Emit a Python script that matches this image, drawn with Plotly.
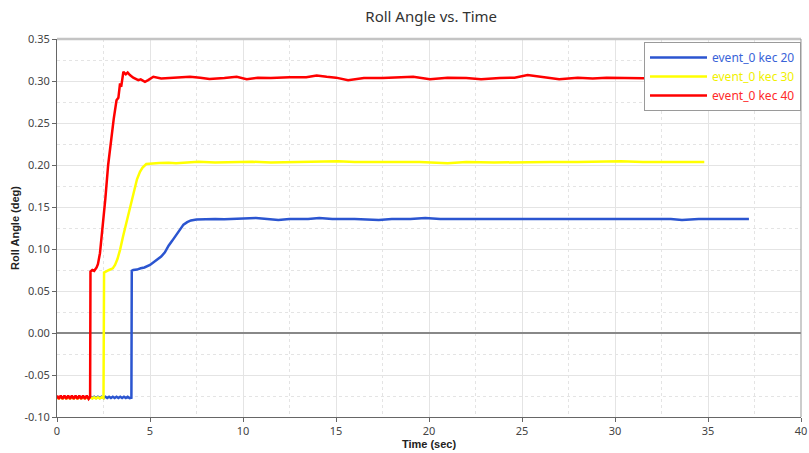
import plotly.graph_objects as go

# ---------------- data ----------------
blue_t = [0.0, 0.1, 0.2, 0.3, 0.4, 0.5, 0.6, 0.7, 0.8, 0.9, 1.0, 1.1, 1.2, 1.3, 1.4, 1.5, 1.6, 1.7, 1.8, 1.9,
          2.0, 2.1, 2.2, 2.3, 2.4, 2.5, 2.6, 2.7, 2.8, 2.9, 3.0, 3.1, 3.2, 3.3, 3.4, 3.5, 3.6, 3.7, 3.8, 3.9, 4.0,
          4.02, 4.1, 4.3, 4.5, 4.7, 5.0, 5.2, 5.4, 5.6, 5.8, 6.0, 6.2, 6.4, 6.6, 6.8, 7.0, 7.2, 7.5, 8.0, 8.5,
          9.0, 10.0, 10.7, 11.3, 11.9, 12.5, 13.5, 14.1, 14.8, 16.0, 17.3, 18.0, 19.0, 19.8, 20.6, 22.0, 24.0,
          26.0, 28.0, 30.0, 32.0, 33.0, 33.6, 34.5, 35.5, 36.5, 37.2]
blue_y = [-0.0760, -0.0775, -0.0760, -0.0775, -0.0760, -0.0775, -0.0760, -0.0775, -0.0760, -0.0775,
          -0.0760, -0.0775, -0.0760, -0.0775, -0.0760, -0.0775, -0.0760, -0.0775, -0.0760, -0.0775,
          -0.0760, -0.0775, -0.0760, -0.0775, -0.0760, -0.0775, -0.0760, -0.0775, -0.0760, -0.0775,
          -0.0760, -0.0775, -0.0760, -0.0775, -0.0760, -0.0775, -0.0760, -0.0775, -0.0760, -0.0775, -0.0770,
          0.0740, 0.0750, 0.0755, 0.0770, 0.0780, 0.0810, 0.0840, 0.0870, 0.0910, 0.0960, 0.1040, 0.1100,
          0.1160, 0.1230, 0.1290, 0.1320, 0.1340, 0.1350, 0.1355, 0.1358,
          0.1355, 0.1362, 0.1370, 0.1358, 0.1345, 0.1357, 0.1358, 0.1370, 0.1357, 0.1357, 0.1345, 0.1357,
          0.1357, 0.1370, 0.1357, 0.1357, 0.1357, 0.1357, 0.1357, 0.1357, 0.1357, 0.1357, 0.1345, 0.1357,
          0.1357, 0.1357, 0.1357]

yellow_t = [0.0, 0.1, 0.2, 0.3, 0.4, 0.5, 0.6, 0.7, 0.8, 0.9, 1.0, 1.1, 1.2, 1.3, 1.4, 1.5, 1.6, 1.7, 1.8, 1.9,
            2.0, 2.1, 2.2, 2.3, 2.4, 2.5,
            2.53, 2.6, 2.8, 3.0, 3.12, 3.25, 3.39, 3.55, 3.75, 3.9, 4.1, 4.3, 4.46, 4.6, 4.8, 5.0, 5.5, 6.0,
            6.4, 7.0, 7.6, 8.5, 9.5, 10.5, 11.5, 12.5, 13.5, 15.1, 16.0, 18.0, 19.5, 21.0, 22.0, 23.5, 25.0,
            26.5, 28.0, 30.3, 31.5, 33.0, 34.8]
yellow_y = [-0.0765, -0.0780, -0.0765, -0.0780, -0.0765, -0.0780, -0.0765, -0.0780, -0.0765, -0.0780,
            -0.0765, -0.0780, -0.0765, -0.0780, -0.0765, -0.0780, -0.0765, -0.0780, -0.0765, -0.0780,
            -0.0765, -0.0780, -0.0765, -0.0780, -0.0765, -0.0775,
            0.0720, 0.0730, 0.0750, 0.0770, 0.0810, 0.0880, 0.0990, 0.1150, 0.1340, 0.1480, 0.1660, 0.1830,
            0.1920, 0.1970, 0.2012, 0.2018, 0.2025, 0.2028, 0.2022, 0.2030, 0.2040, 0.2030, 0.2032, 0.2038,
            0.2030, 0.2035, 0.2038, 0.2045, 0.2035, 0.2035, 0.2035, 0.2022, 0.2035, 0.2030, 0.2035, 0.2035,
            0.2035, 0.2045, 0.2035, 0.2035, 0.2035]

red_t = [0.0, 0.1, 0.2, 0.3, 0.4, 0.5, 0.6, 0.7, 0.8, 0.9, 1.0, 1.1, 1.2, 1.3, 1.4, 1.5, 1.6, 1.7, 1.78,
         1.80, 1.9, 2.0, 2.13, 2.2, 2.31, 2.45, 2.6, 2.75, 2.94, 3.05, 3.2, 3.3, 3.39, 3.45, 3.57, 3.7, 3.8,
         3.92, 4.1, 4.37, 4.5, 4.73, 4.9, 5.18, 5.6, 6.2, 7.15, 7.7, 8.2, 9.0, 9.66, 10.2, 10.8, 11.5, 12.5,
         13.4, 13.96, 14.5, 15.0, 15.65, 16.5, 17.5, 18.5, 19.15, 20.05, 21.0, 22.0, 22.8, 23.8, 24.6, 25.3,
         26.0, 27.0, 28.0, 28.8, 29.55, 30.5, 31.5, 32.5]
red_y = [-0.0745, -0.0785, -0.0745, -0.0785, -0.0745, -0.0785, -0.0745, -0.0785, -0.0745, -0.0785,
         -0.0745, -0.0785, -0.0745, -0.0785, -0.0745, -0.0785, -0.0745, -0.0785, -0.0760,
         0.0730, 0.0750, 0.0740, 0.0780, 0.0820, 0.0950, 0.1250, 0.1600, 0.2000, 0.2380, 0.2550, 0.2770,
         0.2800, 0.2970, 0.2930, 0.3110, 0.3080, 0.3100, 0.3070, 0.3040, 0.3010, 0.3020, 0.2990, 0.3010,
         0.3050, 0.3030, 0.3035, 0.3050, 0.3040, 0.3025, 0.3035, 0.3050, 0.3020, 0.3040, 0.3035, 0.3045,
         0.3045, 0.3065, 0.3050, 0.3040, 0.3010, 0.3035, 0.3035, 0.3045, 0.3050, 0.3020, 0.3040, 0.3035,
         0.3020, 0.3035, 0.3040, 0.3070, 0.3050, 0.3020, 0.3040, 0.3030, 0.3040, 0.3035, 0.3030, 0.3030]

series_names = ["event_0 kec 20", "event_0 kec 30", "event_0 kec 40"]
x_ticks = [0, 5, 10, 15, 20, 25, 30, 35, 40]
y_ticks = [-0.10, -0.05, 0.00, 0.05, 0.10, 0.15, 0.20, 0.25, 0.30, 0.35]

# ---------------- figure ----------------
line_colors = ["#2b55d0", "#ffff00", "#ff0000"]
text_colors = ["#3a63d8", "#f0f000", "#ff2a2a"]
series = [(blue_t, blue_y), (yellow_t, yellow_y), (red_t, red_y)]

fig = go.Figure()
for (t, y), name, lc, tc in zip(series, series_names, line_colors, text_colors):
    fig.add_trace(go.Scatter(
        x=t, y=y, mode="lines",
        name=f"<span style='color:{tc}'>{name}</span>",
        line=dict(color=lc, width=2.5),
    ))

axis_common = dict(
    showgrid=True, gridcolor="#e4e4e4", gridwidth=1,
    showline=True, linecolor="#666666", linewidth=1,
    ticks="outside", ticklen=4, tickcolor="#666666",
    tickfont=dict(family="Noto Sans", size=11, color="#444444"),
    minor=dict(showgrid=True, gridcolor="#e4e4e4", griddash="dot", gridwidth=1, ticks=""),
    automargin=False,
)

fig.update_xaxes(
    range=[0, 40], tickvals=x_ticks, ticktext=[str(v) for v in x_ticks],
    minor_dtick=2.5, zeroline=False,
    title=dict(text="<b>Time (sec)</b>", font=dict(family="Liberation Sans", size=11, color="#222222"),
               standoff=2),
    **axis_common,
)
fig.update_yaxes(
    range=[-0.10, 0.35], tickvals=y_ticks, ticktext=[f"{v:.2f}" for v in y_ticks],
    minor_dtick=0.025, zeroline=True, zerolinecolor="#888888", zerolinewidth=1.5,
    title=dict(text="<b>Roll Angle (deg)</b>", font=dict(family="Liberation Sans", size=11, color="#222222"),
               standoff=2),
    **axis_common,
)

fig.update_layout(
    width=809, height=453,
    margin=dict(l=57, r=8, t=39, b=36),
    paper_bgcolor="white", plot_bgcolor="white",
    title=dict(text="Roll Angle vs. Time", x=0.533, xanchor="center", y=0.962, yanchor="middle",
               font=dict(family="Noto Sans", size=15, color="#333333")),
    showlegend=True,
    legend=dict(x=1.0, y=0.992, xanchor="right", yanchor="top",
                bgcolor="white", bordercolor="#9a9a9a", borderwidth=1,
                font=dict(family="Noto Sans", size=12), itemwidth=57,
                tracegroupgap=0),
    shapes=[
        dict(type="line", xref="paper", yref="paper", x0=0, x1=1, y0=1, y1=1,
             line=dict(color="#c4c4c4", width=2.5)),
        dict(type="line", xref="paper", yref="paper", x0=1, x1=1, y0=0, y1=1,
             line=dict(color="#999999", width=1)),
    ],
)

fig.write_html("out.html")
